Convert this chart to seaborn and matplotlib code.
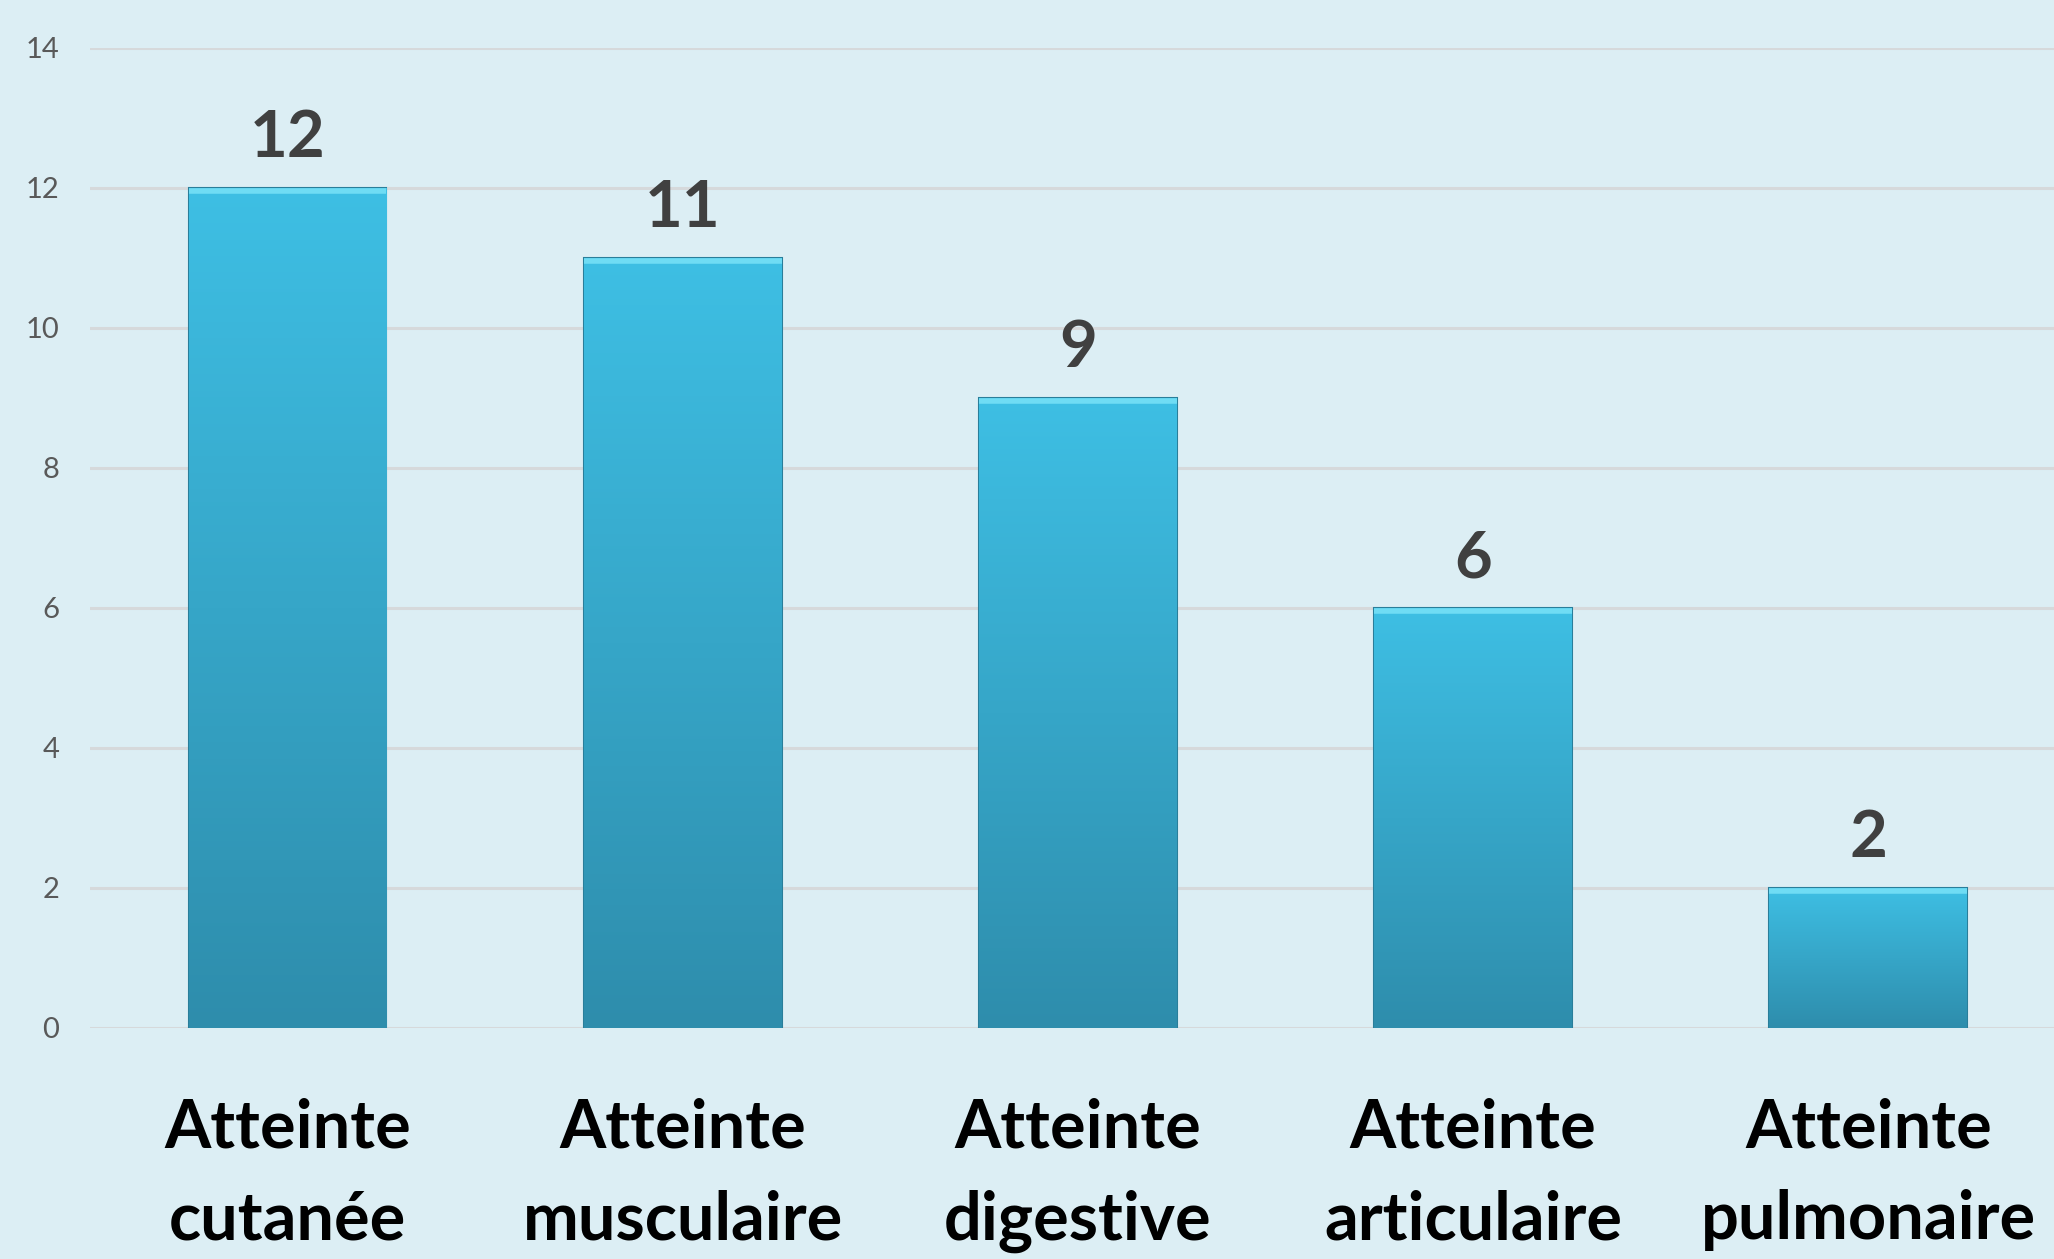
import numpy as np
import pandas as pd
import matplotlib
matplotlib.use("Agg")
import matplotlib.pyplot as plt
import seaborn as sns
from matplotlib.colors import LinearSegmentedColormap

categories = ["Atteinte\ncutanée", "Atteinte\nmusculaire", "Atteinte\ndigestive",
              "Atteinte\narticulaire", "Atteinte\npulmonaire"]
values = [12, 11, 9, 6, 2]
yticks = [0, 2, 4, 6, 8, 10, 12, 14]

BG = "#DCEEF4"
sns.set_theme(style="white")
plt.rcParams['font.family'] = ['Lato', 'DejaVu Sans']

fig = plt.figure(figsize=(20.54, 12.59), dpi=100, facecolor=BG)
ax = fig.add_axes([0.0438, 0.1835, 0.9562, 0.7784], facecolor=BG)

df = pd.DataFrame({"cat": categories, "val": values})
sns.barplot(data=df, x="cat", y="val", ax=ax, color="#3AB0D6", width=0.5,
            saturation=1, zorder=3)

ax.set_ylim(0, 14)
ax.set_xlim(-0.5, 4.47)
ax.set_yticks(yticks)
ax.set_yticklabels([str(t) for t in yticks], fontsize=21, color="#595959")
ax.grid(axis="y", color="#D6D9DB", linewidth=2.2, zorder=0)
ax.set_axisbelow(True)
for s in ax.spines.values():
    s.set_visible(False)
ax.tick_params(axis="y", length=0, pad=22)
ax.tick_params(axis="x", length=0, pad=50)
ax.set_xlabel("")
ax.set_ylabel("")
for lab in ax.get_xticklabels():
    lab.set_fontsize(48)
    lab.set_fontweight("bold")
    lab.set_color("black")
    lab.set_linespacing(1.6)
    lab.set_va("top")

cmap = LinearSegmentedColormap.from_list("bar", ["#2E8DAC", "#3EBFE4"])
grad = np.linspace(0, 1, 256).reshape(-1, 1)
for p, v in zip(ax.patches, values):
    x0, y0 = p.get_x(), p.get_y()
    w, h = p.get_width(), p.get_height()
    im = ax.imshow(grad, cmap=cmap, origin="lower", aspect="auto",
                   extent=(x0, x0 + w, y0, y0 + h), zorder=4)
    im.set_clip_path(p)
    p.set_edgecolor("#2A7E9A")
    p.set_linewidth(1.5)
    ax.plot([x0, x0 + w], [y0 + h - 0.04, y0 + h - 0.04], color="#6FDCF4",
            linewidth=4, zorder=5, solid_capstyle="butt")
    ax.text(x0 + w / 2, y0 + h + 0.44, str(v), ha="center", va="baseline",
            fontsize=47, fontweight="bold", color="#404040", zorder=6)

ax.set_xlim(-0.5, 4.47)
ax.set_ylim(0, 14)
fig.savefig("out.png", dpi=100, facecolor=BG)
